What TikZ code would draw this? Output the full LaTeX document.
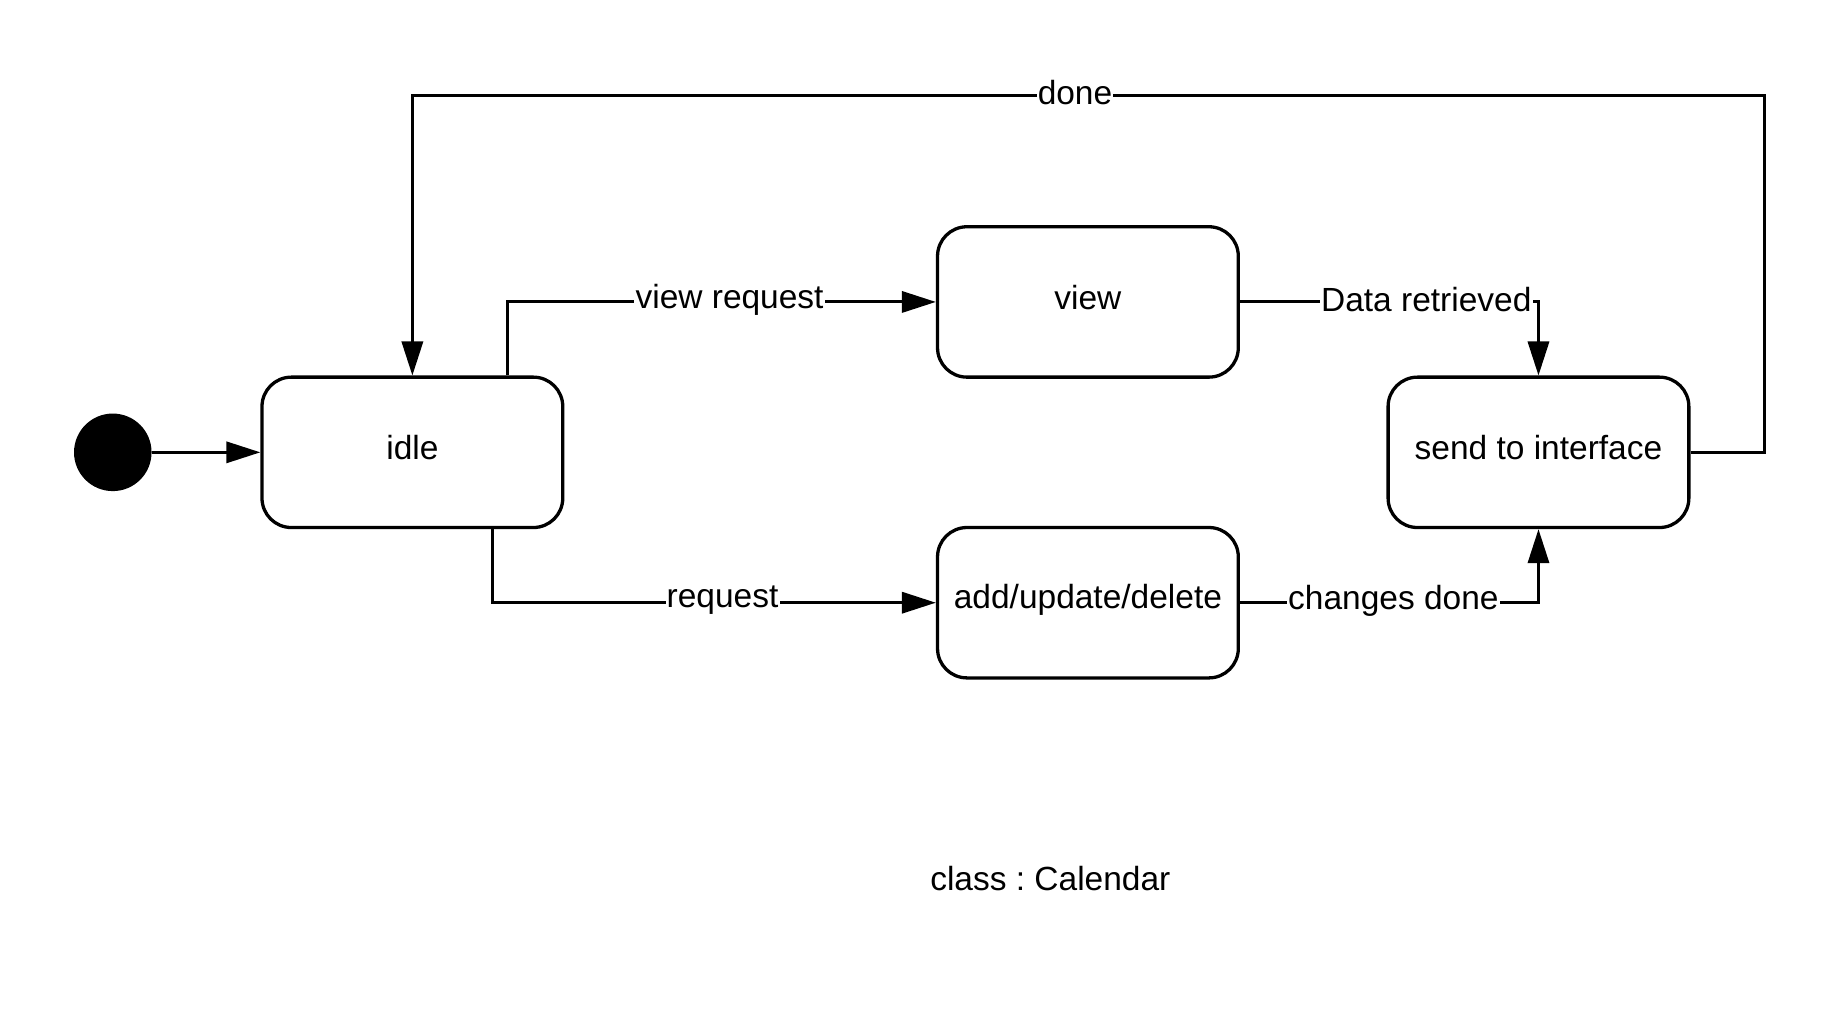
\documentclass[tikz,border=0pt]{standalone}
\usepackage{fontspec}
\setmainfont{Liberation Sans}
\usetikzlibrary{arrows.meta}
\frenchspacing
\newcommand{\diafont}{\fontsize{28.5}{34}\selectfont}
\tikzset{
  statebox/.style={draw, line width=2.8pt, rounded corners=25pt, minimum width=256pt,
    minimum height=128pt, inner sep=0pt, font=\diafont, text depth=8pt},
  conn/.style={line width=2.6pt, -{Triangle[length=29pt,width=18pt]}},
  lbl/.style={fill=white, inner xsep=1pt, inner ysep=2pt, font=\diafont},
  plain/.style={font=\diafont}
}
\begin{document}
\begin{tikzpicture}[x=1pt,y=1pt]
\useasboundingbox (0,0) rectangle (1567,-863);
\node[circle, fill=black, minimum size=66pt, inner sep=0pt] (init) at (96,-385) {};
\node[statebox] (idle) at (351,-385) {idle};
\node[statebox] (view) at (926,-257) {view};
\node[statebox, text depth=10pt] (add) at (926,-513) {add/update/delete};
\node[statebox] (send) at (1309.5,-385) {send to interface};
\coordinate (corner) at (1502,-81);

\draw[conn] (init) -- (idle);
\draw[conn] ([xshift=81pt]idle.north) |- (view.west);
\draw[conn] ([xshift=68pt]idle.south) |- (add.west);
\draw[conn] (view.east) -| (send.north);
\draw[conn] (add.east) -| (send.south);
\draw[conn] (send.east) -| (corner) -| (idle.north);

\node[lbl] (l1) at (621,-255) {view request};
\node[lbl] (l2) at (615,-511) {request};
\node[lbl] (l3) at (1214,-255) {Data retrieved};
\node[lbl] (l4) at (1186,-511) {changes done};
\node[lbl] (l5) at (915,-79) {done};
\node[plain] (cls) at (894,-748) {class : Calendar};
\end{tikzpicture}
\end{document}
